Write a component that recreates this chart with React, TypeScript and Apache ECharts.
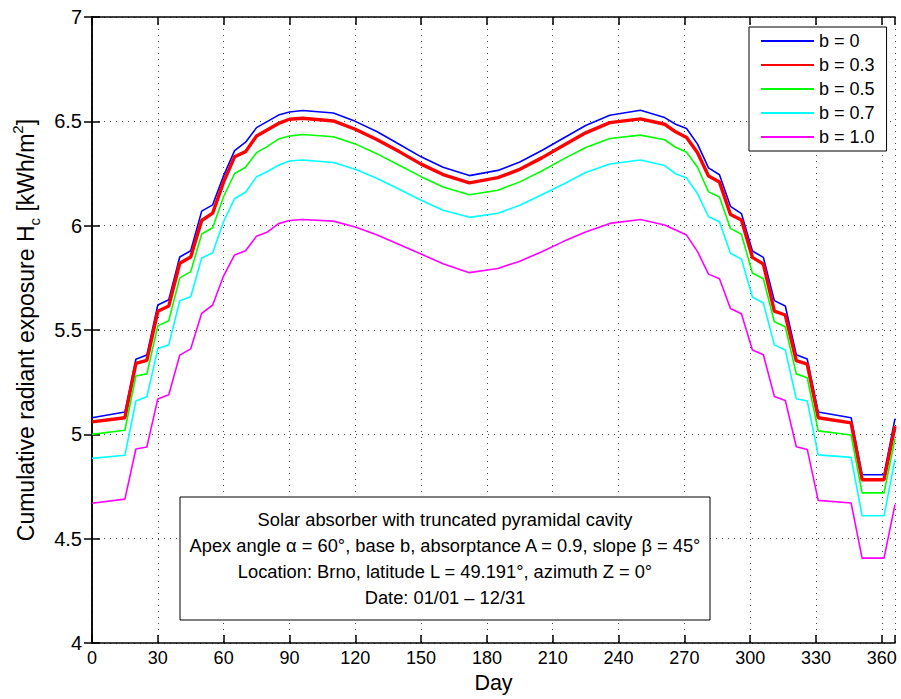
import React, { useEffect, useRef } from "react";
import * as echarts from "echarts";

// Day of the year for every sampled point
const days = [
  0, 15, 20, 25, 30, 35, 40, 45, 50, 55, 60, 65, 70, 75, 80, 85, 90,
  96, 110, 120, 130, 140, 150, 160, 172, 185, 195, 205, 215, 225,
  236, 250, 261, 266, 271, 276, 281, 286, 291, 296, 301, 306, 311, 316, 321, 326, 331,
  346, 351, 361, 366,
];

const b00 = [
  5.08, 5.107, 5.36, 5.38, 5.62, 5.645, 5.85, 5.88, 6.07, 6.1, 6.24, 6.36, 6.4, 6.47, 6.5, 6.53, 6.545,
  6.552, 6.54, 6.5, 6.45, 6.39, 6.33, 6.28, 6.24, 6.265, 6.305, 6.36, 6.42, 6.48,
  6.529, 6.553, 6.518, 6.486, 6.466, 6.391, 6.277, 6.244, 6.093, 6.058, 5.879, 5.848, 5.641, 5.615, 5.382, 5.361, 5.107,
  5.08, 4.807, 4.807, 5.076,
];
const b03 = [
  5.06, 5.08, 5.34, 5.355, 5.59, 5.615, 5.82, 5.85, 6.025, 6.06, 6.21, 6.33, 6.355, 6.43, 6.46, 6.49, 6.51,
  6.515, 6.502, 6.462, 6.412, 6.355, 6.295, 6.245, 6.205, 6.23, 6.27, 6.325, 6.385, 6.445,
  6.494, 6.512, 6.486, 6.45, 6.423, 6.35, 6.238, 6.209, 6.054, 6.027, 5.848, 5.816, 5.591, 5.572, 5.353, 5.337, 5.08,
  5.055, 4.783, 4.783, 5.04,
];
const b05 = [
  5.0, 5.02, 5.28, 5.29, 5.52, 5.545, 5.75, 5.78, 5.96, 5.99, 6.14, 6.25, 6.28, 6.35, 6.38, 6.415, 6.43,
  6.437, 6.426, 6.392, 6.344, 6.29, 6.235, 6.185, 6.148, 6.17, 6.21, 6.262, 6.32, 6.375,
  6.418, 6.434, 6.412, 6.376, 6.352, 6.28, 6.162, 6.138, 5.987, 5.959, 5.773, 5.746, 5.54, 5.516, 5.29, 5.271, 5.017,
  4.997, 4.72, 4.72, 4.98,
];
const b07 = [
  4.885, 4.9, 5.16, 5.18, 5.41, 5.43, 5.64, 5.66, 5.845, 5.87, 6.02, 6.13, 6.16, 6.235, 6.26, 6.29, 6.31,
  6.315, 6.303, 6.27, 6.226, 6.175, 6.122, 6.074, 6.04, 6.06, 6.098, 6.148, 6.2, 6.255,
  6.296, 6.315, 6.288, 6.249, 6.228, 6.154, 6.043, 6.019, 5.868, 5.84, 5.658, 5.63, 5.429, 5.404, 5.171, 5.16, 4.902,
  4.89, 4.61, 4.61, 4.88,
];
const b10 = [
  4.67, 4.69, 4.93, 4.94, 5.17, 5.19, 5.38, 5.41, 5.58, 5.62, 5.76, 5.86, 5.88, 5.95, 5.97, 6.01, 6.025,
  6.03, 6.022, 5.994, 5.955, 5.91, 5.864, 5.818, 5.775, 5.795, 5.83, 5.875, 5.925, 5.97,
  6.011, 6.03, 6.003, 5.979, 5.955, 5.876, 5.768, 5.746, 5.603, 5.578, 5.404, 5.382, 5.182, 5.163, 4.941, 4.928, 4.684,
  4.671, 4.407, 4.407, 4.664,
];

const seriesNames = ["b = 0", "b = 0.3", "b = 0.5", "b = 0.7", "b = 1.0"];
const seriesColors = ["#0000ff", "#ff0000", "#00ff00", "#00ffff", "#ff00ff"];
const seriesWidths = [1.6, 3.4, 1.6, 1.6, 1.6];

const noteLines = [
  "Solar absorber with truncated pyramidal cavity",
  "Apex angle α = 60°, base b, absorptance A = 0.9, slope β = 45°",
  "Location: Brno, latitude L = 49.191°, azimuth Z = 0°",
  "Date: 01/01 – 12/31",
];

const FONT = "'Liberation Sans', Arial, Helvetica, sans-serif";

export default function App() {
  const ref = useRef<HTMLDivElement>(null);

  useEffect(() => {
    const chart = echarts.init(ref.current as HTMLDivElement, null, { renderer: "svg" });
    const allValues = [b00, b03, b05, b07, b10];
    const gridLine = { show: true, lineStyle: { color: "#444", width: 1, type: [1, 5] as any } };
    const boxAxisLine = { show: true, lineStyle: { color: "#000", width: 1.5 } };
    const boxTick = { show: true, inside: true, length: 8, lineStyle: { color: "#000", width: 1.5 } };

    chart.setOption({
      animation: false,
      backgroundColor: "#ffffff",
      textStyle: { fontFamily: FONT },
      grid: { left: 92, top: 17, right: 6, bottom: 51, containLabel: false },
      legend: {
        orient: "vertical",
        left: 749,
        top: 27,
        itemWidth: 53,
        itemHeight: 18,
        itemGap: 6,
        padding: [5, 12, 5, 11],
        backgroundColor: "#ffffff",
        borderColor: "#000",
        borderWidth: 1,
        itemStyle: { opacity: 0 },
        textStyle: { fontSize: 18, color: "#000", fontFamily: FONT },
        data: seriesNames,
        z: 20,
      },
      xAxis: [
        {
          type: "value",
          min: 0,
          max: 366,
          interval: 30,
          name: "Day",
          nameLocation: "middle",
          nameGap: 27,
          nameTextStyle: { fontSize: 21.5, color: "#000", fontFamily: FONT },
          axisLine: boxAxisLine,
          axisTick: boxTick,
          axisLabel: {
            fontSize: 18,
            color: "#000",
            margin: 6,
            fontFamily: FONT,
            formatter: (v: number) => (v % 30 === 0 ? String(v) : ""),
          },
          splitLine: gridLine,
        },
        {
          type: "value",
          min: 0,
          max: 366,
          interval: 30,
          position: "top",
          axisLine: boxAxisLine,
          axisTick: boxTick,
          axisLabel: { show: false },
          splitLine: { show: false },
        },
      ],
      yAxis: [
        {
          type: "value",
          min: 4,
          max: 7,
          interval: 0.5,
          name:
            "{a|Cumulative radiant exposure H}{b|c}{a| [kWh/m}{s|2}{a|]}",
          nameLocation: "middle",
          nameGap: 50,
          nameRotate: 90,
          nameTextStyle: {
            color: "#000",
            fontFamily: FONT,
            rich: {
              a: { fontSize: 23, color: "#000", fontFamily: FONT, lineHeight: 32, verticalAlign: "middle" },
              b: { fontSize: 15, color: "#000", fontFamily: FONT, lineHeight: 32, verticalAlign: "bottom" },
              s: { fontSize: 15, color: "#000", fontFamily: FONT, lineHeight: 32, verticalAlign: "top" },
            },
          },
          axisLine: boxAxisLine,
          axisTick: boxTick,
          axisLabel: { fontSize: 20, color: "#000", margin: 10, fontFamily: FONT },
          splitLine: gridLine,
        },
        {
          type: "value",
          min: 4,
          max: 7,
          interval: 0.5,
          position: "right",
          axisLine: boxAxisLine,
          axisTick: boxTick,
          axisLabel: { show: false },
          splitLine: { show: false },
        },
      ],
      series: allValues.map((vals, i) => ({
        type: "line",
        name: seriesNames[i],
        xAxisIndex: 0,
        yAxisIndex: 0,
        symbol: "none",
        showSymbol: false,
        clip: true,
        data: days.map((d, j) => [d, vals[j]]),
        lineStyle: { color: seriesColors[i], width: seriesWidths[i] },
        itemStyle: { color: seriesColors[i] },
        emphasis: { disabled: true },
      })),
      graphic: [
        {
          type: "rect",
          z: 100,
          shape: { x: 180, y: 497, width: 530, height: 123 },
          style: { fill: "#ffffff", stroke: "#000", lineWidth: 1 },
        },
        ...noteLines.map((t, i) => ({
          type: "text",
          z: 101,
          x: 445,
          y: 519 + i * 26.3,
          style: {
            text: t,
            fill: "#000",
            font: `18.3px ${FONT}`,
            textAlign: "center",
            textVerticalAlign: "middle",
          },
        })),
      ],
    });

    return () => chart.dispose();
  }, []);

  return (
    <div
      ref={ref}
      style={{ position: "fixed", left: 0, top: 0, width: 901, height: 699, background: "#fff" }}
    />
  );
}
